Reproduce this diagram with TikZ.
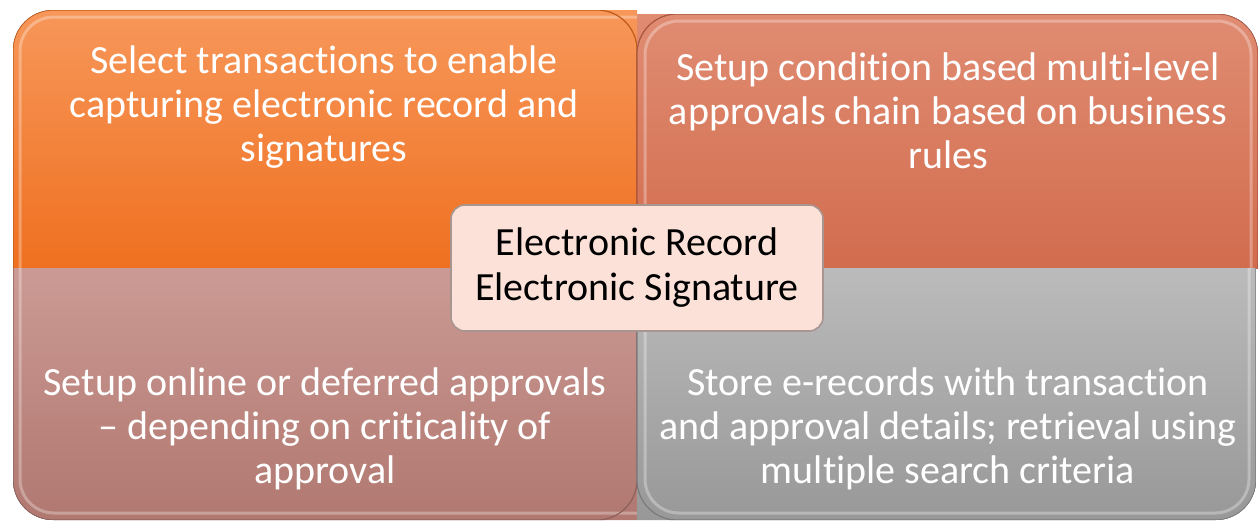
\documentclass[tikz,border=0pt]{standalone}
\usepackage{fontspec}
\setmainfont{Carlito}[Ligatures=NoCommon]
\definecolor{tlTop}{HTML}{F7975A}
\definecolor{tlBot}{HTML}{EF7020}
\definecolor{trTop}{HTML}{E08C72}
\definecolor{trBot}{HTML}{D26C4E}
\definecolor{blTop}{HTML}{CC9A94}
\definecolor{blBot}{HTML}{B07870}
\definecolor{brTop}{HTML}{BBBBBB}
\definecolor{brBot}{HTML}{989898}
\definecolor{hubFill}{HTML}{FCE1D9}
\definecolor{hubLine}{HTML}{A89590}
\tikzset{
  quadtext/.style={text=white, font=\fontsize{40}{44}\selectfont, align=center, inner sep=0pt},
  hubbox/.style={draw=hubLine, line width=1.6pt, fill=hubFill, rounded corners=14pt,
    minimum width=372pt, minimum height=126pt, inner sep=0pt,
    font=\fontsize{40}{45}\selectfont, align=center, text=black},
  hilite/.style={draw=white, draw opacity=0.3, line width=3pt}
}
\begin{document}
\begin{tikzpicture}[x=1pt,y=-1pt]
\useasboundingbox (0,0) rectangle (1260,523);
% top-left
\begin{scope}
  \clip[rounded corners=40pt] (13,10) rectangle (700,330);
  \fill[top color=tlTop, bottom color=tlBot] (13,10) rectangle (637,268);
  \draw[hilite, rounded corners=34pt] (20,268) -- (20,17) -- (637,17);
  \draw[draw=tlBot!80!black, line width=1.2pt, rounded corners=40pt] (13,268) -- (13,10) -- (637,10) -- (637,268);
\end{scope}
% top-right
\begin{scope}
  \clip[rounded corners=40pt] (580,14) rectangle (1258,330);
  \fill[top color=trTop, bottom color=trBot] (637,14) rectangle (1258,268);
  \draw[hilite, rounded corners=34pt] (645,268) -- (645,21) -- (1251,21) -- (1251,268);
  \draw[draw=trBot!80!black, line width=1.2pt, rounded corners=40pt] (637,268) -- (637,14) -- (1258,14) -- (1258,268);
\end{scope}
% bottom-left
\begin{scope}
  \clip[rounded corners=40pt] (13,210) rectangle (700,520);
  \fill[top color=blTop, bottom color=blBot] (13,268) rectangle (637,520);
  \draw[hilite, rounded corners=34pt] (20,268) -- (20,513) -- (637,513);
  \draw[draw=blBot!80!black, line width=1.2pt, rounded corners=40pt] (13,268) -- (13,520) -- (637,520) -- (637,268);
\end{scope}
% bottom-right
\begin{scope}
  \clip[rounded corners=40pt] (580,210) rectangle (1256,520);
  \fill[top color=brTop, bottom color=brBot] (637,268) rectangle (1256,520);
  \draw[hilite, rounded corners=34pt] (645,268) -- (645,513) -- (1249,513) -- (1249,268);
  \draw[draw=brBot!80!black, line width=1.2pt, rounded corners=40pt] (637,268) -- (637,520) -- (1256,520) -- (1256,268);
\end{scope}
% texts
\node[quadtext] (tl) at (324,107) {Select transactions to enable\\capturing electronic record and\\signatures};
\node[quadtext] (tr) at (948,111) {Setup condition based multi-level\\approvals chain based on business\\rules};
\node[quadtext] (bl) at (325,429) {Setup online or deferred approvals\\-- depending on criticality of\\approval};
\node[quadtext] (br) at (948,429) {Store e-records with transaction\\and approval details; retrieval using\\multiple search criteria};
% hub
\node[hubbox] (hub) at (637,268) {Electronic Record\\Electronic Signature};
\end{tikzpicture}
\end{document}
